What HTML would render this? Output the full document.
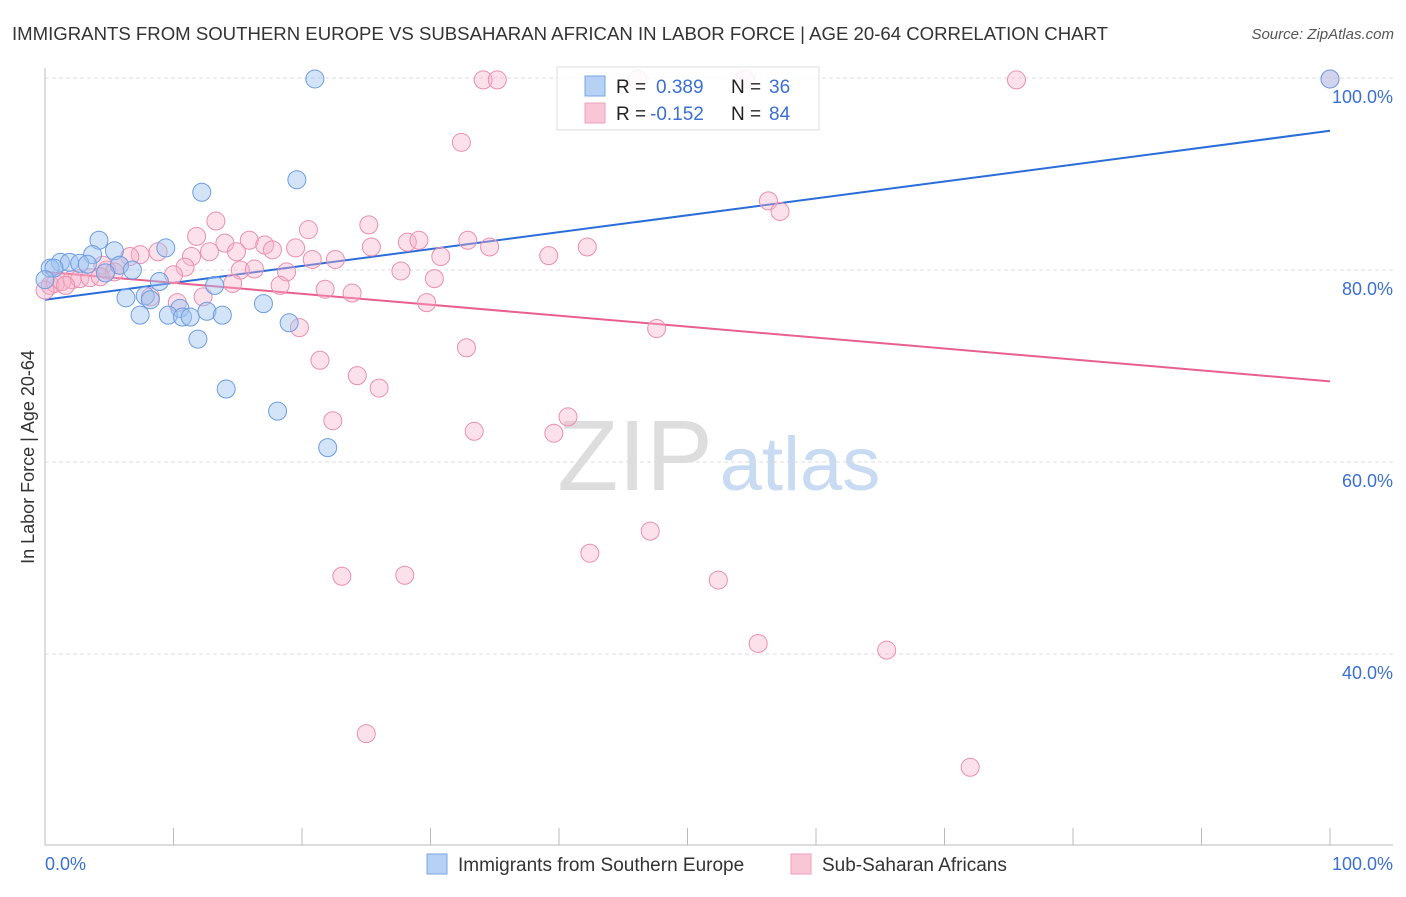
<!DOCTYPE html>
<html><head><meta charset="utf-8"><style>
body{margin:0;background:#fff;font-family:"Liberation Sans",sans-serif;}
svg text{font-family:"Liberation Sans",sans-serif;}
</style></head><body>
<svg id="chart" width="1406" height="892" xmlns="http://www.w3.org/2000/svg">
<text x="12" y="40" font-size="18.5" fill="#333" textLength="1096" lengthAdjust="spacingAndGlyphs">IMMIGRANTS FROM SOUTHERN EUROPE VS SUBSAHARAN AFRICAN IN LABOR FORCE | AGE 20-64 CORRELATION CHART</text>
<text x="1394" y="39" font-size="15" fill="#555" text-anchor="end" font-style="italic">Source: ZipAtlas.com</text>
<g>
<text x="635" y="490" font-size="100" fill="#ddd" text-anchor="middle" font-family="Liberation Serif, serif">ZIP</text>
<text x="800" y="490" font-size="76" fill="#c9daf3" text-anchor="middle">atlas</text>
</g>
<text transform="translate(34,457) rotate(-90)" font-size="18" fill="#333" text-anchor="middle">In Labor Force | Age 20-64</text>
<g id="grid"></g><g id="axes"></g><g id="lines"></g><g id="pts"></g>
<g>
<rect x="557" y="67" width="262" height="63" fill="#fff" fill-opacity="0.85" stroke="#ddd"/>
<rect x="585" y="76" width="20" height="20" fill="#b7d1f5" stroke="#7aa5e6"/>
<rect x="585" y="103" width="20" height="20" fill="#f9c6d6" stroke="#eea0ba"/>
<text x="616" y="93" font-size="19" fill="#222">R =</text><text x="656" y="93" font-size="19" fill="#3b6fd4">0.389</text>
<text x="731" y="93" font-size="19" fill="#222">N =</text><text x="769" y="93" font-size="19" fill="#3b6fd4">36</text>
<text x="616" y="120" font-size="19" fill="#222">R =</text><text x="650" y="120" font-size="19" fill="#3b6fd4">-0.152</text>
<text x="731" y="120" font-size="19" fill="#222">N =</text><text x="769" y="120" font-size="19" fill="#3b6fd4">84</text>
</g>
<g>
<rect x="427" y="854" width="20" height="20" fill="#b7d1f5" stroke="#7aa5e6"/>
<text x="458" y="871" font-size="19" fill="#333">Immigrants from Southern Europe</text>
<rect x="791" y="854" width="20" height="20" fill="#f9c6d6" stroke="#eea0ba"/>
<text x="822" y="871" font-size="19" fill="#333">Sub-Saharan Africans</text>
</g>
<text x="45" y="870" font-size="18" fill="#3b6fd4">0.0%</text>
<text x="1393" y="870" font-size="18" fill="#3b6fd4" text-anchor="end">100.0%</text>
</svg>
<script>
const yTicks=[100,80,60,40];
const yTickLabels=["100.0%","80.0%","60.0%","40.0%"];
const xTicks=[0,10,20,30,40,50,60,70,80,90,100];
const blueX=[21.0,19.6,12.2,4.2,9.4,5.4,3.7,1.2,1.9,2.7,3.3,0.4,0.7,5.8,4.7,6.8,8.9,13.2,6.3,7.8,8.2,17.0,10.5,7.4,9.6,10.7,11.3,12.6,13.8,19.0,11.9,14.1,18.1,22.0,100,0];
const blueY=[99.9,89.4,88.1,83.1,82.3,82.0,81.6,80.8,80.8,80.7,80.6,80.2,80.2,80.5,79.7,80.0,78.8,78.4,77.1,77.3,76.9,76.5,76.0,75.3,75.3,75.1,75.1,75.7,75.3,74.5,72.8,67.6,65.3,61.5,99.9,79.0];
const pinkX=[13.3,11.8,20.5,14.0,15.9,17.1,17.7,19.5,14.9,12.8,11.4,7.4,8.8,6.6,20.8,22.6,10.9,10.0,15.2,16.3,18.8,18.3,21.8,12.3,14.6,10.3,8.2,5.8,4.8,4.5,19.8,21.4,22.4,0.4,0.8,1.3,2.1,2.7,3.5,0,32.4,34.1,35.2,25.2,25.4,28.2,29.1,32.9,34.6,39.2,42.2,30.8,27.7,30.3,23.9,29.7,47.6,56.3,57.2,32.8,24.3,26.0,33.4,39.6,40.7,47.1,42.4,23.1,28.0,52.4,55.5,65.5,25.0,72.0,75.6,100,46.1,54.5,5.4,1.6,4.3];
const pinkY=[85.1,83.5,84.2,82.8,83.1,82.6,82.1,82.3,81.9,81.9,81.4,81.6,81.9,81.4,81.1,81.1,80.3,79.5,80.0,80.1,79.8,78.4,78.0,77.2,78.6,76.6,77.2,80.5,80.0,80.5,74.0,70.6,64.3,78.4,78.6,78.8,79.0,79.1,79.2,77.9,93.3,99.8,99.8,84.7,82.4,82.9,83.1,83.1,82.4,81.5,82.4,81.4,79.9,79.1,77.6,76.6,73.9,87.2,86.1,71.9,69.0,67.7,63.2,63.0,64.7,52.8,50.5,48.1,48.2,47.7,41.1,40.4,31.7,28.2,99.8,99.9,99.9,99.9,79.8,78.4,79.3];
const blueTrend=[76.9,94.5];
const pinkTrend=[79.8,68.4];
const NS="http://www.w3.org/2000/svg";
const sx=v=>45+v*12.85, sy=v=>78+(100-v)*9.6;
function mk(tag,attrs,parent){const e=document.createElementNS(NS,tag);for(const k in attrs)e.setAttribute(k,attrs[k]);document.getElementById(parent).appendChild(e);return e;}
yTicks.forEach((t,i)=>{
 const g=mk('line',{x1:45,x2:1393,y1:sy(t),y2:sy(t),stroke:'#ddd','stroke-dasharray':'4,3'},'grid');
 
 
 const l=mk('text',{x:1393,y:sy(t)+25,'font-size':18,fill:'#3b6fd4','text-anchor':'end'},'grid');
 l.textContent=yTickLabels[i];
 
 
});
const ax=mk('line',{x1:45,x2:1393,y1:845,y2:845,stroke:'#bbb'},'axes');


const ay=mk('line',{x1:45,x2:45,y1:68,y2:845,stroke:'#bbb'},'axes');


xTicks.forEach(t=>{const k=mk('line',{x1:sx(t),x2:sx(t),y1:828,y2:845,stroke:'#bbb'},'axes');
 
 });
function dots(X,Y,fill,stroke,name){X.forEach((x,i)=>{const c=mk('circle',{cx:sx(x),cy:sy(Y[i]),r:9,fill:fill,stroke:stroke,'stroke-width':1},'pts');
 
 });}
dots(pinkX,pinkY,'rgba(246,176,200,0.38)','#eb8fae','pink-point');
dots(blueX,blueY,'rgba(160,195,240,0.45)','#6c9de2','blue-point');
const bl=mk('line',{x1:sx(0),y1:sy(blueTrend[0]),x2:sx(100),y2:sy(blueTrend[1]),stroke:'#2a6dd9','stroke-width':2},'lines');


const pl=mk('line',{x1:sx(0),y1:sy(pinkTrend[0]),x2:sx(100),y2:sy(pinkTrend[1]),stroke:'#e8608e','stroke-width':2},'lines');


</script>
</body></html>
